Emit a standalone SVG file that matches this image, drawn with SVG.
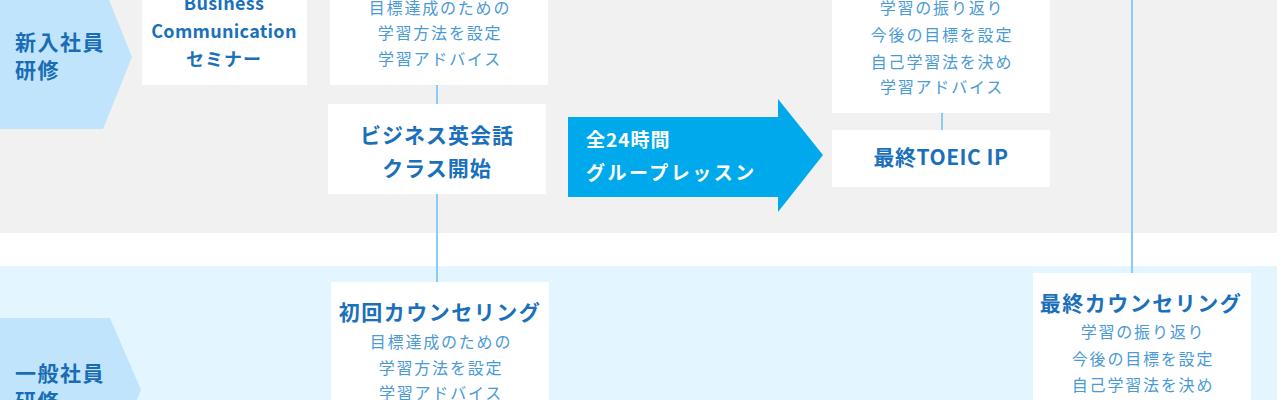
<svg xmlns="http://www.w3.org/2000/svg" width="1280" height="400" viewBox="0 0 1280 400">
<style>
.box{fill:#ffffff}
.ttl{font-family:"Noto Sans CJK JP","Noto Sans",sans-serif;font-weight:bold;fill:#1a70ba;text-anchor:middle}
.body{font-family:"Noto Sans CJK JP","Noto Sans",sans-serif;font-size:16px;fill:#4a9ad6;text-anchor:middle;letter-spacing:1.8px}
.lbl{font-family:"Noto Sans CJK JP","Noto Sans",sans-serif;font-weight:bold;font-size:21px;fill:#1a6db5;letter-spacing:1.5px}
.conn{stroke:#8ccaf7;stroke-width:2;fill:none}
.pent{fill:#bfe4fc}
.arrtxt{font-family:"Noto Sans CJK JP","Noto Sans",sans-serif;font-weight:bold;font-size:19px;fill:#ffffff}
</style>
<rect x="0" y="0" width="1280" height="400" fill="#ffffff"/>
<rect id="band-top" x="0" y="0" width="1277" height="233" fill="#f1f1f1"/>
<rect id="band-bottom" x="0" y="266" width="1277" height="134" fill="#e3f5fe"/>
<g id="label-new">
<polygon class="pent" points="0,-15 103,-15 132,57 103,129 0,129"/>
<text class="lbl" x="15" y="50">新入社員</text>
<text class="lbl" x="15" y="78">研修</text>
</g>
<g id="label-general">
<polygon class="pent" points="0,318 110,318 141,390 110,462 0,462"/>
<text class="lbl" x="15" y="381">一般社員</text>
<text class="lbl" x="15" y="409">研修</text>
</g>
<g id="connectors">
<line class="conn" x1="437" y1="85" x2="437" y2="105"/>
<line class="conn" x1="437" y1="194" x2="437" y2="282"/>
<line class="conn" x1="942" y1="113" x2="942" y2="130"/>
<line class="conn" x1="1132" y1="0" x2="1132" y2="273"/>
</g>
<g id="node-bcs">
<rect class="box" x="142" y="-20" width="165" height="105"/>
<text class="ttl" x="224" y="10" font-size="18" letter-spacing="0.3">Business</text>
<text class="ttl" x="224" y="38" font-size="18" letter-spacing="0.3">Communication</text>
<text class="ttl" x="224" y="66" font-size="18" letter-spacing="1">セミナー</text>
</g>
<g id="node-counsel1-top">
<rect class="box" x="330" y="-20" width="218" height="105"/>
<text class="body" x="440" y="14">目標達成のための</text>
<text class="body" x="440" y="39">学習方法を設定</text>
<text class="body" x="440" y="65">学習アドバイス</text>
</g>
<g id="node-class">
<rect class="box" x="328" y="104" width="218" height="90"/>
<text class="ttl" x="437" y="143" font-size="21" letter-spacing="1">ビジネス英会話</text>
<text class="ttl" x="437" y="176" font-size="21" letter-spacing="1">クラス開始</text>
</g>
<g id="node-lesson">
<polygon fill="#00a9ec" points="568,117 778,117 778,99 823,155 778,212 778,197 568,197"/>
<text class="arrtxt" x="586" y="147" letter-spacing="1">全24時間</text>
<text class="arrtxt" x="586" y="180" letter-spacing="2.5">グループレッスン</text>
</g>
<g id="node-final-top">
<rect class="box" x="832" y="-20" width="218" height="133"/>
<text class="body" x="942" y="14">学習の振り返り</text>
<text class="body" x="942" y="41">今後の目標を設定</text>
<text class="body" x="942" y="68">自己学習法を決め</text>
<text class="body" x="942" y="93">学習アドバイス</text>
</g>
<g id="node-toeic">
<rect class="box" x="832" y="130" width="218" height="57"/>
<text class="ttl" x="941" y="165" font-size="21" letter-spacing="0.5">最終TOEIC IP</text>
</g>
<g id="node-counsel1">
<rect class="box" x="331" y="282" width="218" height="140"/>
<text class="ttl" x="440" y="320" font-size="21" letter-spacing="1.5">初回カウンセリング</text>
<text class="body" x="441" y="348">目標達成のための</text>
<text class="body" x="441" y="374">学習方法を設定</text>
<text class="body" x="441" y="399">学習アドバイス</text>
</g>
<g id="node-counsel-final">
<rect class="box" x="1033" y="273" width="218" height="150"/>
<text class="ttl" x="1141" y="311" font-size="21" letter-spacing="1.5">最終カウンセリング</text>
<text class="body" x="1143" y="338">学習の振り返り</text>
<text class="body" x="1143" y="365">今後の目標を設定</text>
<text class="body" x="1143" y="391">自己学習法を決め</text>
</g>
</svg>
